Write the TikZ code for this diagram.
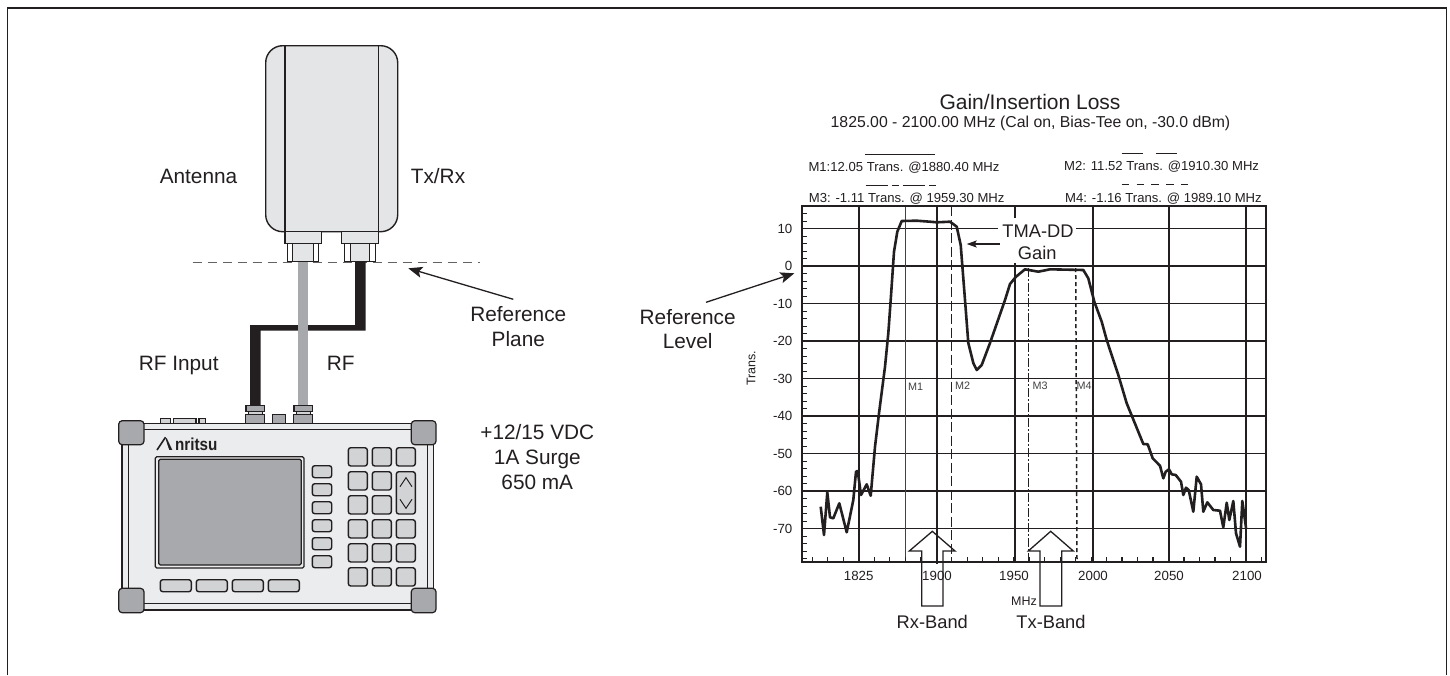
\documentclass[tikz,border=0pt]{standalone}
\usepackage{fontspec}
\usepackage{graphicx}
\setmainfont{Liberation Sans}
\usetikzlibrary{arrows.meta}
\definecolor{ink}{HTML}{231F20}
\definecolor{antfill}{HTML}{E4E5E6}
\definecolor{bodyfill}{HTML}{EBECED}
\definecolor{keyfill}{HTML}{D1D3D4}
\definecolor{midgrey}{HTML}{A7A9AC}
\tikzset{
  lbl/.style={inner sep=0pt,text=ink,anchor=base,yshift=-7.4pt,font=\fontsize{20.8}{24}\selectfont},
  lblb/.style={inner sep=0pt,text=ink,anchor=base,yshift=-6.5pt,font=\fontsize{18.3}{22}\selectfont},
  mtxt/.style={inner sep=0pt,text=ink,anchor=base west,yshift=-4.7pt,font=\fontsize{13.1}{16}\selectfont},
  ticktxt/.style={inner sep=0pt,text=ink,font=\fontsize{13.3}{16}\selectfont},
  marktxt/.style={inner sep=0pt,text=ink!85,font=\fontsize{10.8}{13}\selectfont},
  part/.style={draw=ink,line width=1.3pt,fill=antfill},
  key/.style={draw=ink,line width=1.4pt,fill=keyfill,rounded corners=2.5pt},
  corner/.style={draw=ink,line width=1.2pt,fill=midgrey,rounded corners=3.5pt},
  grid h/.style={draw=ink,line width=1.3pt},
  grid v/.style={draw=ink,line width=2pt},
  pointer/.style={draw=ink,line width=1.3pt,-{Stealth[length=14pt,width=11pt,inset=3pt]}},
  bandarrow/.style={draw=ink,line width=1.3pt,line join=miter},
}
\begin{document}
\begin{tikzpicture}[x=1pt,y=-1pt]
\useasboundingbox (0,0) rectangle (1450,675);
\fill[white] (0,0) rectangle (1450,675);
% frame
\draw[ink,line width=1.8pt] (7.5,675) -- (7.5,8) -- (1446.5,8) -- (1446.5,675);

% ---------- antenna ----------
\draw[part,line width=1.4pt,rounded corners=17pt] (265.7,45.7) rectangle (397.7,231.7);
\draw[ink,line width=1.2pt] (285,45.7) -- (285,231.7) (378.3,45.7) -- (378.3,231.7);
\draw[part] (285,231.7) rectangle (321.7,243.3);
\draw[part,fill=white] (287.7,243.3) rectangle (318.3,261.7);
\draw[part,fill=antfill] (292.7,243.3) rectangle (313.3,261.7);
\draw[part] (341.7,231.7) rectangle (378.3,243.3);
\draw[part,fill=white] (344.3,243.3) rectangle (375.7,261.7);
\draw[part,fill=antfill] (350.7,243.3) rectangle (369.3,261.7);
\draw[draw=ink!70,line width=1pt,dash pattern=on 9pt off 6pt] (192.7,262.7) -- (480,262.7);

% ---------- cables ----------
\coordinate (txrx) at (360.3,262);
\coordinate (antin) at (303,262);
\coordinate (portl) at (255.3,406);
\coordinate (portr) at (303,406);
\fill[ink] (355,262) -- (365.7,262) -- (365.7,330.7) -- (260.7,330.7) -- (260.7,406) -- (250,406) -- (250,325) -- (355,325) -- cycle;
\draw[midgrey,line width=10.8pt] (antin) -- (portr);

% ---------- instrument ----------
\draw[part,fill=keyfill] (160.7,418.7) rectangle (170.7,423.3);
\draw[part,fill=keyfill] (173.3,418.7) rectangle (196,423.3);
\draw[part,fill=keyfill] (199,418.7) rectangle (205.7,423.3);
\draw[part,fill=midgrey] (272.7,414.3) rectangle (285.7,423.3);
\foreach \xx in {255.2,303.2}{
  \draw[part,fill=midgrey] (\xx-9.6,414.3) rectangle (\xx+9.6,423.3);
  \draw[part,fill=keyfill] (\xx-7,411.7) rectangle (\xx+7,414.3);
  \draw[part,fill=midgrey] (\xx-9.3,405.7) rectangle (\xx+9.3,411.7);
}
\draw[part,fill=bodyfill] (122,423.3) rectangle (433.3,610);
\draw[part,fill=bodyfill] (128.3,429.3) rectangle (427.3,603.3);
\draw[corner] (118.7,420.7) rectangle (144,444.7);
\draw[corner] (411.3,420.7) rectangle (436,444.7);
\draw[corner] (118.7,588.3) rectangle (144,612.7);
\draw[corner] (411.3,588.3) rectangle (436,612.7);
\draw[part,fill=bodyfill,rounded corners=1.5pt] (155.3,456.7) rectangle (304,568);
\draw[part,fill=midgrey,rounded corners=1.5pt] (158.7,459.3) rectangle (301.3,565);
\node[inner sep=0pt,text=ink,anchor=base west,font=\fontsize{17.3}{20}\bfseries] (logo) at (156.7,450) {\scalebox{1.3}[1]{A}\kern2pt\scalebox{.88}[1]{nritsu}};
\fill[bodyfill] (155,451.5) -- (155,435.5) -- (164.5,435.5) -- (169.5,451.5) -- cycle;
\draw[ink,line width=1.6pt] (157,450) -- (165.5,437.2);
\foreach \yy in {465.7,483.7,501.7,519.7,537.7,555.7}
  \draw[key] (312.3,\yy) rectangle (331.7,\yy+12);
\foreach \xx in {160.3,196.3,232.3,268.3}
  \draw[key] (\xx,579.7) rectangle (\xx+31,591.7);
\foreach \xx in {348.3,372.3}
  \foreach \yy in {447.7,471.7,495.7,519.7,543.7,567.7}
    \draw[key] (\xx,\yy) rectangle (\xx+19,\yy+18.3);
\foreach \yy in {447.7,519.7,543.7,567.7}
  \draw[key] (396.3,\yy) rectangle (415.3,\yy+18.3);
\draw[key] (396.3,471.7) rectangle (415.3,514);
\draw[ink,line width=1pt] (400,486.7) -- (406,477.7) -- (412,486.7);
\draw[ink,line width=1pt] (400,499.3) -- (406,508.3) -- (412,499.3);

% ---------- left labels ----------
\node[lbl] (antenna) at (198.5,176.5) {Antenna};
\node[lbl] (txrxlbl) at (438,176.5) {Tx/Rx};
\node[lbl] (refplane) at (518.3,314) {Reference};
\node[lbl] (plane) at (518.3,338.7) {Plane};
\node[lbl] (rfinput) at (178.7,362.7) {RF Input};
\node[lbl] (rflbl) at (340.7,362.7) {RF};
\node[lbl] (volt) at (537.3,432) {+12/15 VDC};
\node[lbl] (surge) at (537.3,456.7) {1A Surge};
\node[lbl] (ma) at (537.3,481.7) {650 mA};
\node[lbl] (reflevel) at (687.7,316.7) {Reference};
\node[lbl] (level) at (687.7,341) {Level};
\coordinate (planetip) at (408.3,268.3);
\coordinate (planetail) at (513.3,299.3);
\coordinate (leveltip) at (794.3,273.3);
\coordinate (leveltail) at (706,302.3);
\draw[pointer] (planetail) -- (planetip);
\draw[pointer] (leveltail) -- (leveltip);

% ---------- chart text ----------
\node[inner sep=0pt,text=ink,anchor=base,yshift=-7.5pt,font=\fontsize{21}{24}\selectfont] (title) at (1030,102) {Gain/Insertion Loss};
\node[inner sep=0pt,text=ink,anchor=base,yshift=-5.7pt,font=\fontsize{15.8}{18}\selectfont] (subtitle) at (1030.5,122) {1825.00 - 2100.00 MHz (Cal on, Bias-Tee on, -30.0 dBm)};
\node[mtxt] (m1t) at (808.3,166.7) {M1:12.05 Trans. @1880.40 MHz};
\node[mtxt] (m3t) at (808.7,197.7) {M3: -1.11 Trans. @ 1959.30 MHz};
\node[mtxt] (m2t) at (1064,166.2) {M2: 11.52 Trans. @1910.30 MHz};
\node[mtxt] (m4t) at (1065,197.5) {M4: -1.16 Trans. @ 1989.10 MHz};
\draw[ink,line width=1.3pt] (865,154.3) -- (935,154.3);
\draw[ink,line width=1.3pt,dash pattern=on 22pt off 4pt on 7.5pt off 4pt] (865.7,185.3) -- (936,185.3);
\draw[ink,line width=1.3pt,dash pattern=on 21.7pt off 12.3pt] (1121.7,153.3) -- (1177.3,153.3);
\draw[ink,line width=1.3pt,dash pattern=on 7.5pt off 7.3pt] (1121.7,184.7) -- (1189,184.7);

% ---------- chart grid ----------
\foreach \yy in {228.7,303.5,341,378.5,416,453.5,491,528.5}
  \draw[grid h] (801.7,\yy) -- (1265.7,\yy);
\draw[grid h,line width=1.8pt] (801.7,266) -- (1265.7,266);
\foreach \xx in {858.7,1014.7,1092.7,1169.3,1246}
  \draw[grid v] (\xx,206) -- (\xx,561.7);
\draw[grid v] (936.7,206) -- (936.7,564);
\draw[ink!85,line width=1.4pt] (905.3,206) -- (905.3,561.7);
\draw[ink,line width=1.5pt,dash pattern=on 10pt off 3.5pt] (951.7,206) -- (951.7,561.7);
\draw[ink,line width=1.3pt,dash pattern=on 9pt off 2pt on 2pt off 2pt] (1028.3,268) -- (1028.3,561.7);
\draw[ink,line width=1.5pt,dash pattern=on 4pt off 3pt] (1075.7,268) -- (1077,561.7);
\foreach \k in {-2,...,44}
  \draw[ink,line width=1.1pt] (801.7,228.7+7.5*\k) -- (806.5,228.7+7.5*\k);
\foreach \k in {-3,...,26}
  \draw[ink,line width=1.1pt] (858.7+15.49*\k,561.7) -- (858.7+15.49*\k,556.7);
\draw[ink,line width=1.7pt] (801.7,206) rectangle (1265.7,561.7);

% TMA-DD label and its gap in the grid
\fill[white] (998,215) rectangle (1076,263);
\draw[ink,line width=2pt] (1014.7,206) -- (1014.7,218);
\node[lblb] (tma) at (1038,230.7) {TMA-DD};
\node[lblb] (gain) at (1037.3,252.7) {Gain};
\coordinate (tmatail) at (1000,244);
\coordinate (tmatip) at (966.7,244);
\draw[draw=ink,line width=1.3pt,-{Stealth[length=10pt,width=7pt,inset=2pt]}] (tmatail) -- (tmatip);

% trace
\draw[ink,line width=2.6pt,line join=round] plot coordinates {
(820.7,506.7)(824,535)(827.3,492.3)(830,517.3)(833.3,518.3)(839.3,503.3)(846.7,532.3)(853.3,500)(856,471.7)(857.7,471)(861,495)(866.7,484.3)(870.7,495.7)(875,446.7)(879,413.3)(885,366.7)(888.3,333.3)(890.7,300)(894,251.7)(897.3,231.7)(901.7,221)(916.7,220.7)(930,221.7)(936.7,222.3)(950,221.7)(956.7,226.7)(960.7,245)(965,300)(968.3,343)(973.3,363)(976.7,370)(981.7,365)(990,343)(1005,300)(1010,284)(1016,276.7)(1025,269.3)(1038.3,271.7)(1050,269.3)(1083.3,270)(1088.3,278.3)(1094.3,301.7)(1101.7,321.7)(1106.7,340)(1118.3,375)(1126.7,403.3)(1143.3,444)(1147.7,444.3)(1152.7,458.3)(1160,465.7)(1163.3,478.3)(1165.7,471.7)(1169,469.3)(1171.7,474.3)(1175.7,475)(1181,481.7)(1183.3,495)(1186,487.7)(1188.7,490)(1193.3,511.7)(1196.7,476.7)(1201,484.3)(1203.3,511.7)(1207.3,502.3)(1213.3,510)(1220,510.7)(1223.3,527.3)(1226.7,502.7)(1229.3,520)(1233.3,501)(1236,533.3)(1240,546.7)(1242.3,501)(1246,527.7)};

% chart tick labels
\foreach \val/\yy in {10/228.7,0/266,-10/303.5,-20/341,-30/378.5,-40/416,-50/453.5,-60/491,-70/528.5}
  \node[ticktxt,anchor=east] (y\val) at (792.5,\yy) {\val};
\foreach \val/\xx in {1825/858.7,1900/937,1950/1014,2000/1093,2050/1169,2100/1247}
  \node[ticktxt] (x\val) at (\xx,575.7) {\val};
\node[inner sep=0pt,text=ink,rotate=90,font=\fontsize{12.5}{14}\selectfont] (trans) at (751,368) {Trans.};
\node[marktxt] (m1) at (915.7,386.3) {M1};
\node[marktxt] (m2) at (962.7,385.7) {M2};
\node[marktxt] (m3) at (1040,385.7) {M3};
\node[marktxt] (m4) at (1084,385.7) {M4};
\node[inner sep=0pt,text=ink,font=\fontsize{12.5}{14}\selectfont] (mhz) at (1024,600.7) {MHz};

% band arrows
\draw[bandarrow] (921.7,606) -- (921.7,551) -- (909.3,551) -- (932.3,531.3) -- (955,551) -- (943,551) -- (943,606) -- cycle;
\draw[bandarrow] (1040,606) -- (1040,551) -- (1028.3,551) -- (1050.7,531.3) -- (1073.3,551) -- (1061.7,551) -- (1061.7,606) -- cycle;
\node[lblb] (rxband) at (932.3,621.7) {Rx-Band};
\node[lblb] (txband) at (1051,621.7) {Tx-Band};
\end{tikzpicture}
\end{document}
